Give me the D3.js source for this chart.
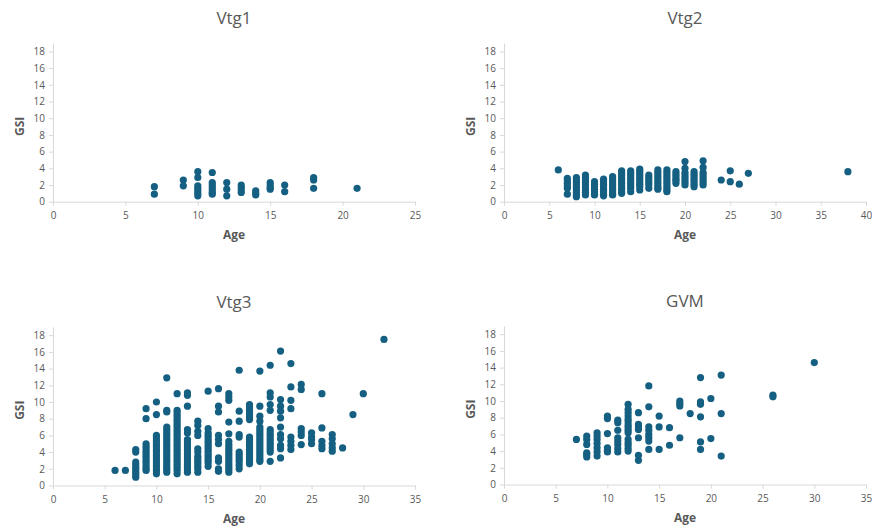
<!DOCTYPE html>
<html>
<head>
<meta charset="utf-8">
<script src="https://cdn.jsdelivr.net/npm/d3@7"></script>
<style>
  body { margin: 0; background: #fff; }
  text { font-family: "Open Sans", "Noto Sans", sans-serif; }
</style>
</head>
<body>
<div id="chart"></div>
<script>
// Data: [age, [GSI values at that age]]
const vtg1 = [
  [7, [1.8, 0.9]],
  [9, [2.6, 1.9]],
  [10, [3.6, 2.9, 1.9, 1.6, 1.3, 1.0, 0.7]],
  [11, [3.5, 2.3, 2.0, 1.7, 1.4, 1.1, 0.9]],
  [12, [2.3, 1.5, 0.7]],
  [13, [2.0, 1.7, 1.4, 1.1]],
  [14, [1.3, 1.0, 0.8]],
  [15, [2.3, 2.0, 1.7, 1.5]],
  [16, [2.0, 1.2]],
  [18, [2.9, 2.6, 1.6]],
  [21, [1.6]]
];

const vtg2 = [
  [6, [3.8]],
  [7, [2.8, 2.5, 2.2, 1.9, 1.6, 0.9]],
  [8, [2.9, 2.6, 2.3, 2.0, 1.7, 1.4, 1.1, 0.8, 0.6]],
  [9, [3.2, 2.9, 2.6, 2.3, 2.0, 1.7, 1.4, 1.1, 0.8]],
  [10, [2.4, 2.1, 1.8, 1.5, 1.2, 0.9, 0.8]],
  [11, [2.7, 2.4, 2.1, 1.8, 1.5, 1.2, 0.9, 0.7]],
  [12, [3.0, 2.7, 2.4, 2.1, 1.8, 1.5, 1.2, 0.9, 0.8]],
  [13, [3.7, 3.4, 3.1, 2.8, 2.5, 2.2, 1.9, 1.6, 1.3, 1.0]],
  [14, [3.7, 3.4, 3.1, 2.8, 2.5, 2.2, 1.9, 1.6, 1.2]],
  [15, [3.9, 3.6, 3.3, 3.0, 2.7, 2.4, 2.1, 1.8, 1.4]],
  [16, [3.2, 2.9, 2.6, 2.3, 2.0, 1.6]],
  [17, [3.8, 3.5, 3.2, 2.9, 2.6, 2.3, 2.0, 1.7, 1.5]],
  [18, [3.8, 3.5, 3.2, 2.9, 2.6, 2.3, 2.0, 1.7, 1.4, 1.2]],
  [19, [3.6, 3.3, 3.0, 2.7, 2.5, 2.2]],
  [20, [4.8, 4.0, 3.5, 3.2, 2.9, 2.6, 2.3, 2.0]],
  [21, [3.6, 3.3, 3.0, 2.7, 2.4, 2.1, 1.8]],
  [22, [4.9, 4.1, 3.5, 3.2, 2.9, 2.6, 2.3, 2.0]],
  [24, [2.6]],
  [25, [3.7, 2.4]],
  [26, [2.1]],
  [27, [3.4]],
  [38, [3.6]]
];

const vtg3 = [
  [6, [1.8]],
  [7, [1.8]],
  [8, [4.3, 4.0, 2.8, 2.5, 2.2, 1.9, 1.6, 1.3, 1.0]],
  [9, [9.2, 8.0, 5.0, 4.7, 4.4, 4.1, 3.8, 3.5, 3.2, 2.9, 2.6, 2.3, 2.0, 1.8]],
  [10, [10.0, 8.5, 6.0, 5.7, 5.4, 5.1, 4.8, 4.5, 4.2, 3.9, 3.6, 3.3, 3.0, 2.7, 2.4, 2.1, 1.8, 1.4]],
  [11, [12.9, 9.0, 8.8, 7.0, 6.7, 6.4, 6.1, 5.8, 5.5, 5.2, 4.9, 4.6, 4.3, 4.0, 3.7, 3.4, 3.1, 2.8, 2.5, 2.2, 1.9, 1.6]],
  [12, [11.0, 9.0, 8.7, 8.4, 8.1, 7.8, 7.5, 7.2, 6.9, 6.6, 6.3, 6.0, 5.7, 5.4, 5.1, 4.8, 4.5, 4.2, 3.9, 3.6, 3.3, 3.0, 2.7, 2.4, 2.1, 1.8, 1.4]],
  [13, [11.1, 10.8, 9.5, 6.7, 6.3, 5.5, 5.2, 4.9, 4.6, 4.3, 4.0, 3.7, 3.4, 3.1, 2.8, 2.5, 2.2, 1.9, 1.6]],
  [14, [7.7, 7.2, 6.5, 6.0, 4.4, 4.0, 3.5, 3.2, 2.9, 2.6, 2.3, 2.0, 1.6]],
  [15, [11.3, 6.8, 6.3, 6.0, 5.7, 5.4, 5.1, 4.8, 4.5, 4.2, 3.9, 3.6, 3.3, 3.0, 2.7, 2.3]],
  [16, [11.6, 9.5, 8.8, 6.0, 5.5, 5.0, 3.3, 2.9, 2.0, 1.7]],
  [17, [11.0, 10.6, 10.2, 7.6, 6.2, 5.3, 4.9, 4.6, 4.3, 4.0, 3.7, 3.4, 3.1, 2.8, 2.5, 2.2, 1.9, 1.6]],
  [18, [13.8, 8.9, 7.7, 6.1, 5.8, 4.0, 3.7, 3.4, 3.1, 2.8, 2.4, 2.0]],
  [19, [9.7, 9.4, 9.1, 8.8, 8.5, 8.2, 7.9, 5.8, 5.5, 5.2, 4.9, 4.6, 4.3, 4.0, 3.7, 3.4, 3.1, 2.8, 2.6]],
  [20, [13.7, 9.5, 8.3, 7.7, 7.0, 6.7, 6.4, 6.1, 5.8, 5.5, 5.2, 4.9, 4.6, 4.3, 4.0, 3.7, 3.4, 3.1, 2.9]],
  [21, [14.4, 11.1, 10.6, 9.7, 9.0, 6.7, 6.4, 6.1, 5.8, 5.5, 5.2, 4.9, 4.6, 4.3, 4.0, 2.9]],
  [22, [16.1, 10.3, 9.5, 8.9, 8.1, 7.0, 6.1, 5.6, 4.8, 4.4, 3.3]],
  [23, [14.6, 11.8, 10.2, 9.2, 5.8, 5.3, 4.8, 4.3]],
  [24, [12.1, 11.5, 6.8, 6.4, 6.0, 4.9]],
  [25, [6.3, 5.8, 5.5, 5.0]],
  [26, [11.0, 6.9, 5.3, 4.8, 4.4]],
  [27, [6.1, 5.6, 5.0, 4.5, 4.1]],
  [28, [4.5]],
  [29, [8.5]],
  [30, [11.0]],
  [32, [17.5]]
];

const gvm = [
  [7, [5.4]],
  [8, [5.8, 5.4, 4.8, 3.8, 3.6, 3.3]],
  [9, [6.2, 5.8, 5.4, 4.9, 4.4, 3.9, 3.4]],
  [10, [8.2, 7.9, 6.1, 4.4, 4.1, 3.9]],
  [11, [7.7, 7.4, 6.5, 5.6, 5.2, 4.8, 4.3, 3.9]],
  [12, [9.6, 9.0, 8.6, 8.2, 7.8, 7.5, 7.1, 6.8, 6.5, 6.2, 5.4, 5.0, 4.7, 4.3, 4.0]],
  [13, [8.6, 7.2, 6.9, 6.6, 5.6, 3.5, 2.9]],
  [14, [11.8, 9.3, 6.9, 6.5, 6.0, 5.6, 5.2, 4.2]],
  [15, [8.2, 6.9, 4.2]],
  [16, [6.8, 4.7]],
  [17, [10.0, 9.7, 9.4, 5.6]],
  [18, [8.5]],
  [19, [12.8, 9.9, 9.6, 8.1, 5.1, 4.2]],
  [20, [10.3, 5.5]],
  [21, [13.1, 8.5, 3.4]],
  [26, [10.7, 10.5]],
  [30, [14.6]]
];

const yTicks = [0, 2, 4, 6, 8, 10, 12, 14, 16, 18];

const panels = [
  { title: "Vtg1", data: vtg1, xMax: 25, left: 53, right: 415, bottom: 201.7 },
  { title: "Vtg2", data: vtg2, xMax: 40, left: 504, right: 866, bottom: 201.7 },
  { title: "Vtg3", data: vtg3, xMax: 35, left: 53, right: 415, bottom: 485.5 },
  { title: "GVM", data: gvm, xMax: 35, left: 504, right: 866, bottom: 484.5 }
];

const width = 872, height = 527;
const unit = 8.35;     // px per GSI unit
const dotColor = "#156082";
const textColor = "#595959";
const axisColor = "#d9d9d9";

const svg = d3.select("#chart")
  .append("svg")
  .attr("width", width)
  .attr("height", height);

function drawPanel(p) {
  const top = p.bottom - 19 * unit;
  const x = d3.scaleLinear().domain([0, p.xMax]).range([p.left, p.right]);
  const y = d3.scaleLinear().domain([0, 19]).range([p.bottom, top]);
  const xTicks = d3.range(0, p.xMax + 1, 5);

  const g = svg.append("g");

  // x axis
  const xAxis = g.append("g")
    .attr("transform", `translate(0,${p.bottom})`)
    .call(d3.axisBottom(x).tickValues(xTicks).tickSize(4).tickSizeOuter(0).tickPadding(6));
  // y axis
  const yAxis = g.append("g")
    .attr("transform", `translate(${p.left},0)`)
    .call(d3.axisLeft(y).tickValues(yTicks).tickSize(4).tickSizeOuter(0).tickPadding(4));

  [xAxis, yAxis].forEach(a => {
    a.select(".domain").attr("stroke", axisColor);
    a.selectAll(".tick line").attr("stroke", axisColor);
    a.selectAll(".tick text")
      .attr("fill", textColor)
      .style("font-size", "10px");
  });

  // points
  const pts = p.data.flatMap(([age, vals]) => vals.map(v => ({ age, gsi: v })));
  g.selectAll("circle")
    .data(pts)
    .join("circle")
    .attr("cx", d => x(d.age))
    .attr("cy", d => y(d.gsi))
    .attr("r", 3.6)
    .attr("fill", dotColor);

  // title
  g.append("text")
    .attr("x", (p.left + p.right) / 2)
    .attr("y", top - 19)
    .attr("text-anchor", "middle")
    .attr("fill", textColor)
    .style("font-size", "17px")
    .text(p.title);

  // axis titles
  g.append("text")
    .attr("x", (p.left + p.right) / 2)
    .attr("y", p.bottom + 37)
    .attr("text-anchor", "middle")
    .attr("fill", textColor)
    .style("font-size", "12px")
    .style("font-weight", "bold")
    .text("Age");

  g.append("text")
    .attr("transform", `translate(${p.left - 29},${(p.bottom + top) / 2 + 4}) rotate(-90)`)
    .attr("text-anchor", "middle")
    .attr("fill", textColor)
    .style("font-size", "12px")
    .style("font-weight", "bold")
    .text("GSI");
}

panels.forEach(drawPanel);
</script>
</body>
</html>
